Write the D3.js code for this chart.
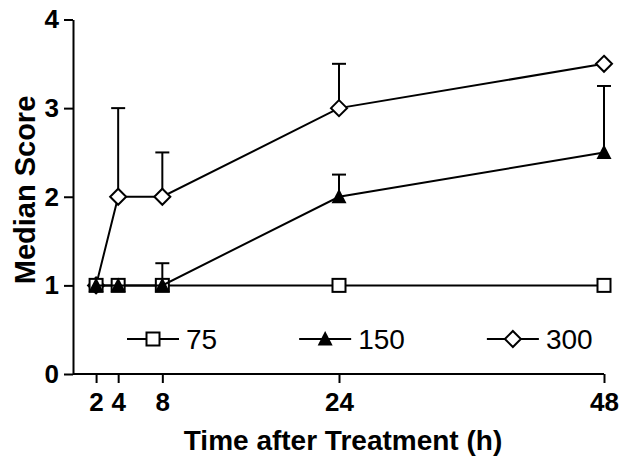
<!DOCTYPE html>
<html>
<head>
<meta charset="utf-8">
<script src="https://cdn.jsdelivr.net/npm/d3@7"></script>
<style>
  body { margin: 0; background: #fff; }
  svg { display: block; font-family: "Liberation Sans", Arial, sans-serif; }
</style>
</head>
<body>
<svg id="chart" width="627" height="467"></svg>
<script>
const hours = [2, 4, 8, 24, 48];
const dose75 = [1, 1, 1, 1, 1];
const dose150 = [1, 1, 1, 2, 2.5];
const dose300 = [1, 2, 2, 3, 3.5];
// upper error limits (null = no bar drawn)
const err75 = [null, null, null, null, null];
const err150 = [null, null, 1.25, 2.25, 3.25];
const err300 = [null, 3, 2.5, 3.5, null];
const yTicks = [0, 1, 2, 3, 4];
const seriesNames = ["75", "150", "300"];

const svg = d3.select("#chart");

const x = d3.scaleLinear().domain([0, 48]).range([74, 604]);
const y = d3.scaleLinear().domain([0, 4]).range([374, 19.5]);

const series = [
  { name: seriesNames[0], values: dose75, upper: err75, shape: "square" },
  { name: seriesNames[1], values: dose150, upper: err150, shape: "triangle" },
  { name: seriesNames[2], values: dose300, upper: err300, shape: "diamond" },
];

function drawMarker(g, shape) {
  if (shape === "square") {
    g.append("rect").attr("x", -6.5).attr("y", -6.5).attr("width", 13).attr("height", 13)
      .attr("fill", "#fff").attr("stroke", "#000").attr("stroke-width", 2);
  } else if (shape === "triangle") {
    g.append("path").attr("d", "M0,-8L7.5,6.5L-7.5,6.5Z").attr("fill", "#000");
  } else {
    g.append("path").attr("d", "M0,-8L8,0L0,8L-8,0Z")
      .attr("fill", "#fff").attr("stroke", "#000").attr("stroke-width", 2);
  }
}

// axes
const yAxis = svg.append("g").attr("transform", "translate(73,0)")
  .call(d3.axisLeft(y).tickValues(yTicks).tickFormat(d3.format("d")).tickSize(9).tickPadding(5).tickSizeOuter(0));
const xAxis = svg.append("g").attr("transform", "translate(0,374)")
  .call(d3.axisBottom(x).tickValues(hours).tickFormat(d3.format("d")).tickSize(9).tickPadding(10).tickSizeOuter(0));

[yAxis, xAxis].forEach(a => {
  a.select(".domain").attr("stroke", "#000").attr("stroke-width", 2);
  a.selectAll(".tick line").attr("stroke", "#000").attr("stroke-width", 2);
  a.selectAll(".tick text").attr("fill", "#000").attr("font-size", 26).attr("font-weight", "bold")
    .attr("font-family", "Liberation Sans, Arial, sans-serif");
});
xAxis.select(".domain").attr("d", `M73,0H${x(48)}`);

// axis titles
svg.append("text").attr("x", 343).attr("y", 450).attr("text-anchor", "middle")
  .attr("font-size", 28).attr("font-weight", "bold").text("Time after Treatment (h)");
svg.append("text").attr("transform", "translate(35,190) rotate(-90)").attr("text-anchor", "middle")
  .attr("font-size", 29).attr("font-weight", "bold").text("Median Score");

const plot = svg.append("g");
const line = d3.line().x((d, i) => x(hours[i])).y(d => y(d));

// error bars
series.forEach(s => {
  s.upper.forEach((u, i) => {
    if (u == null) return;
    plot.append("line").attr("x1", x(hours[i])).attr("x2", x(hours[i]))
      .attr("y1", y(s.values[i])).attr("y2", y(u)).attr("stroke", "#000").attr("stroke-width", 2);
    plot.append("line").attr("x1", x(hours[i]) - 7).attr("x2", x(hours[i]) + 7)
      .attr("y1", y(u)).attr("y2", y(u)).attr("stroke", "#000").attr("stroke-width", 2);
  });
});

// draw 300 first so the 75 / 150 markers sit on top where they overlap
[series[2], series[0], series[1]].forEach(s => {
  plot.append("path").attr("d", line(s.values)).attr("fill", "none")
    .attr("stroke", "#000").attr("stroke-width", 2);
  s.values.forEach((v, i) => {
    const g = plot.append("g").attr("transform", `translate(${x(hours[i])},${y(v)})`);
    drawMarker(g, s.shape);
  });
});

// legend
const legend = svg.append("g").attr("transform", "translate(127,339)");
let offset = 0;
series.forEach(s => {
  const item = legend.append("g").attr("transform", `translate(${offset},0)`);
  item.append("line").attr("x1", 0).attr("x2", 52).attr("stroke", "#000").attr("stroke-width", 2);
  drawMarker(item.append("g").attr("transform", "translate(26,0)"), s.shape);
  const t = item.append("text").attr("x", 59).attr("y", 10).attr("font-size", 28).text(s.name);
  offset += 59 + t.node().getComputedTextLength() + 82;
});
</script>
</body>
</html>
